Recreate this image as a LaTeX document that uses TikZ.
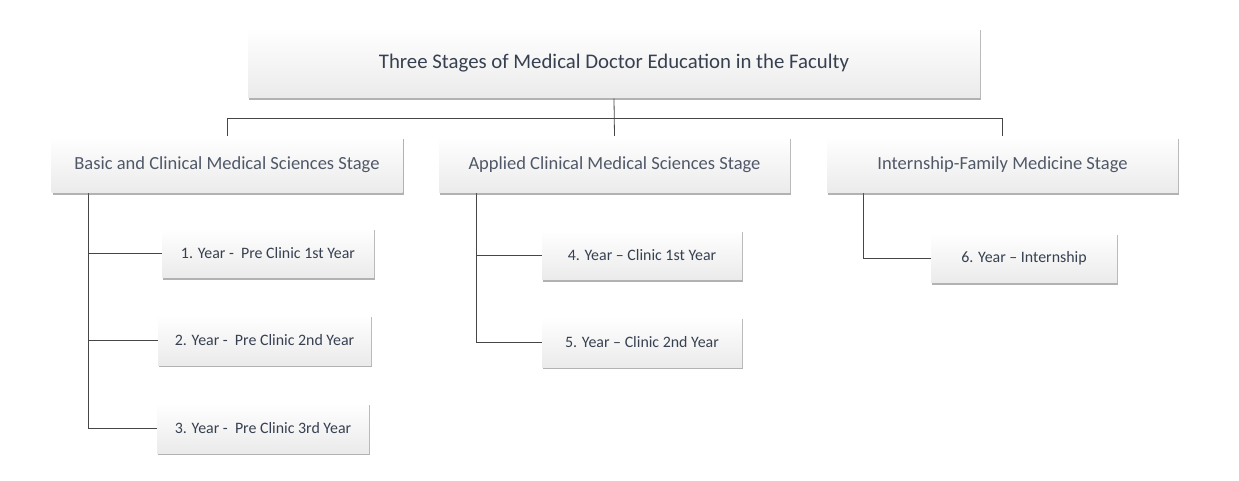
\documentclass[tikz,border=0pt]{standalone}
\usepackage{fontspec}
\setmainfont{Carlito}
\usepackage{tikz}
\usetikzlibrary{shadows}
\pgfdeclarelayer{edgelayer}
\pgfdeclarelayer{nodelayer}
\pgfsetlayers{edgelayer,nodelayer,main}
\definecolor{boxtext}{RGB}{55,64,80}
\definecolor{stagetext}{RGB}{80,88,104}
\definecolor{linegray}{RGB}{70,70,70}
\tikzstyle{none}=[inner sep=0pt]
\tikzstyle{card}=[rectangle,top color=white,bottom color=gray!16,text=boxtext,inner sep=0pt,drop shadow={shadow xshift=0.6pt,shadow yshift=-1.2pt,opacity=0.5,fill=black!60}]
\tikzstyle{headcard}=[card,minimum width=366pt,minimum height=35pt,font=\fontsize{10.4}{12}\selectfont]
\tikzstyle{stagecard}=[card,minimum width=175.5pt,minimum height=28pt,text=stagetext,font=\fontsize{9.25}{11}\selectfont]
\tikzstyle{yearcard}=[card,minimum height=25pt,font=\fontsize{7.95}{9}\selectfont]
\tikzstyle{simple}=[-,draw=linegray,line width=0.4pt]

\begin{document}
\begin{tikzpicture}[x=0.5pt,y=-0.5pt]
	\useasboundingbox (0,0) rectangle (1239,481);
	\begin{pgfonlayer}{nodelayer}
		\node [style=headcard] (top) at (614, 63) {Three Stages of Medical Doctor Education in the Faculty};
		\node [style=stagecard] (s1) at (227, 165) {Basic and Clinical Medical Sciences Stage};
		\node [style=stagecard] (s2) at (614.5, 165) {Applied Clinical Medical Sciences Stage};
		\node [style=stagecard] (s3) at (1002.5, 165) {Internship-Family Medicine Stage};
		\node [style=yearcard, minimum width=106pt] (y1) at (268, 253) {1. Year -\ \ Pre Clinic 1st Year};
		\node [style=yearcard, minimum width=106.5pt] (y2) at (264.5, 340) {2. Year -\ \ Pre Clinic 2nd Year};
		\node [style=yearcard, minimum width=106pt] (y3) at (263, 428) {3. Year -\ \ Pre Clinic 3rd Year};
		\node [style=yearcard, minimum width=100pt] (y4) at (642, 255) {4. Year -- Clinic 1st Year};
		\node [style=yearcard, minimum width=100pt] (y5) at (642, 342) {5. Year -- Clinic 2nd Year};
		\node [style=yearcard, minimum width=93pt] (y6) at (1024, 258) {6. Year -- Internship};
		\node [style=none] (h1) at (227, 118) {};
		\node [style=none] (h3) at (1002.5, 118) {};
		\node [style=none] (a1) at (88, 180) {};
		\node [style=none] (a2) at (476, 180) {};
		\node [style=none] (a3) at (863, 180) {};
	\end{pgfonlayer}
	\begin{pgfonlayer}{edgelayer}
		\draw [style=simple] (top.south) to (s2.north);
		\draw [style=simple] (h1.center) to (h3.center);
		\draw [style=simple] (h1.center) to (s1.north);
		\draw [style=simple] (h3.center) to (s3.north);
		\draw [style=simple] (a1.center) |- (y1.west);
		\draw [style=simple] (a1.center) |- (y2.west);
		\draw [style=simple] (a1.center) |- (y3.west);
		\draw [style=simple] (a2.center) |- (y4.west);
		\draw [style=simple] (a2.center) |- (y5.west);
		\draw [style=simple] (a3.center) |- (y6.west);
	\end{pgfonlayer}
\end{tikzpicture}
\end{document}
